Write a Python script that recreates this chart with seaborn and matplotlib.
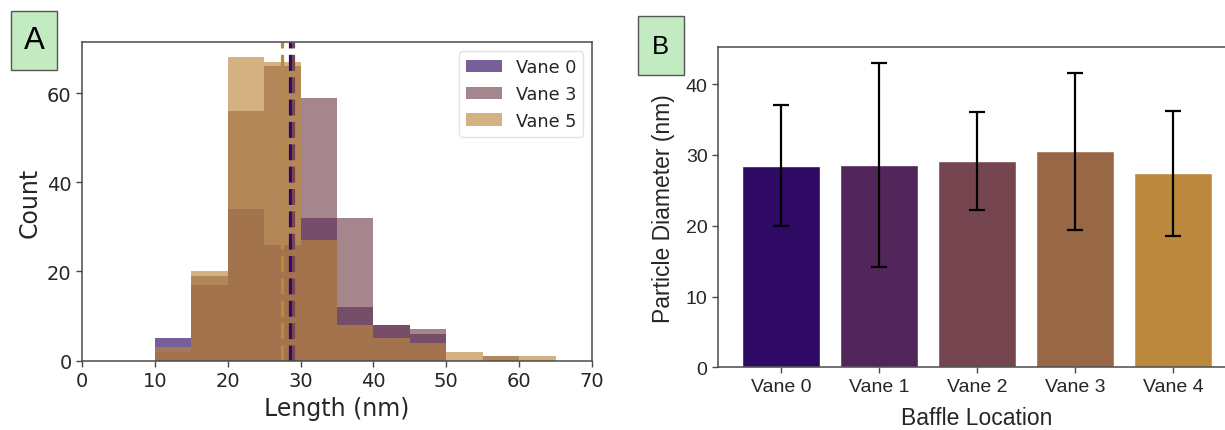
import matplotlib
matplotlib.use("Agg")
import matplotlib.pyplot as plt
from matplotlib.patches import Rectangle
import numpy as np
import pandas as pd
import seaborn as sns

# ---- Panel A: length histograms (counts per 5 nm bin) ----
bin_edges = [10, 15, 20, 25, 30, 35, 40, 45, 50, 55, 60, 65]
vane0_counts = [5, 17, 34, 26, 32, 12, 8, 6, 0, 0, 0]
vane3_counts = [2, 19, 56, 66, 59, 32, 8, 7, 0, 1, 0]
vane5_counts = [3, 20, 68, 67, 27, 8, 5, 4, 2, 1, 1]
hist_labels = ["Vane 0", "Vane 3", "Vane 5"]
mean_lengths = [28.5, 29.0, 27.4]

# ---- Panel B: mean particle diameter per baffle location ----
locations = ["Vane 0", "Vane 1", "Vane 2", "Vane 3", "Vane 4"]
mean_diam = [28.5, 28.6, 29.1, 30.5, 27.4]
std_diam = [8.6, 14.4, 6.9, 11.1, 8.8]

palette = ["#2e0a64", "#52265a", "#764650", "#986846", "#bc883e"]
hist_colors = [palette[0], palette[2], palette[4]]

sns.set_style("ticks")
plt.rcParams["font.family"] = ["DejaVu Sans"]
plt.rcParams["axes.edgecolor"] = "#4a4a4a"
plt.rcParams["xtick.color"] = "#4a4a4a"
plt.rcParams["ytick.color"] = "#4a4a4a"
plt.rcParams["xtick.labelcolor"] = "#262626"
plt.rcParams["ytick.labelcolor"] = "#262626"
plt.rcParams["axes.labelcolor"] = "#262626"

fig = plt.figure(figsize=(12.25, 4.31), dpi=100)
W, H = 1225, 431

def fig_box(left, top, right, bottom):
    return [left / W, 1 - bottom / H, (right - left) / W, (bottom - top) / H]

axA = fig.add_axes(fig_box(82, 43.3, 592, 361.6))
axB = fig.add_axes(fig_box(718, 48.3, 1236, 368.3))

# Histograms, drawn in order so the last series sits on top
centers = (np.array(bin_edges[:-1]) + np.array(bin_edges[1:])) / 2
for counts, color, label in zip([vane0_counts, vane3_counts, vane5_counts],
                                hist_colors, hist_labels):
    df = pd.DataFrame({"length": centers, "count": counts})
    sns.histplot(data=df, x="length", weights="count", bins=bin_edges,
                 color=color, alpha=0.65, linewidth=0, edgecolor="none",
                 label=label, ax=axA)

for m, color in zip([mean_lengths[2], mean_lengths[0], mean_lengths[1]],
                    [hist_colors[2], hist_colors[0], hist_colors[1]]):
    axA.axvline(m, color=color, linestyle=(0, (5, 2)), linewidth=2.3)

axA.set_xlim(0, 70)
axA.set_xticks(range(0, 71, 10))
axA.set_yticks([0, 20, 40, 60])
axA.set_xlabel("Length (nm)", fontsize=17)
axA.set_ylabel("Count", fontsize=17)
axA.tick_params(labelsize=14, length=4, width=1)
for s in axA.spines.values():
    s.set_visible(True)
    s.set_linewidth(1.1)
leg = axA.legend(loc="upper right", fontsize=12.7, frameon=True,
                 handlelength=2.0, borderaxespad=0.5)
leg.get_frame().set_edgecolor("#dddddd")

# Bar chart with standard-deviation error bars
dfB = pd.DataFrame({"location": locations, "diameter": mean_diam})
sns.barplot(data=dfB, x="location", y="diameter", hue="location",
            palette=palette, saturation=1, errorbar=None, width=0.8,
            legend=False, ax=axB)
xpos = np.arange(len(locations))
axB.errorbar(xpos, mean_diam, yerr=std_diam, fmt="none", ecolor="black",
             elinewidth=1.6, capsize=5.5, capthick=1.6)
axB.set_xlim(-0.643, len(locations) - 1 + 0.643)
axB.set_ylim(0, 45.2)
axB.set_yticks([0, 10, 20, 30, 40])
for lab in axB.get_xticklabels() + axB.get_yticklabels():
    lab.set_family("Liberation Sans")
axB.tick_params(labelsize=14, length=4, width=1)
axB.set_xlabel("Baffle Location", fontsize=16.5, family="Liberation Sans",
               labelpad=8)
axB.set_ylabel("Particle Diameter (nm)", fontsize=16.5,
               family="Liberation Sans", labelpad=8)
for s in axB.spines.values():
    s.set_visible(True)
    s.set_linewidth(1.1)

# Panel letters in shaded boxes
for (x0, y0, x1, y1, letter, size) in [(11, 11.7, 57, 71, "A", 22.5),
                                        (637.5, 17.3, 684, 76, "B", 18.5)]:
    fig.patches.append(Rectangle((x0 / W, 1 - y1 / H), (x1 - x0) / W,
                                 (y1 - y0) / H, transform=fig.transFigure,
                                 facecolor="#c2ebc2", edgecolor="#555555",
                                 linewidth=1.0, zorder=5))
    fig.text((x0 + x1) / 2 / W, 1 - (y0 + y1) / 2 / H, letter,
             ha="center", va="center", fontsize=size,
             family="Liberation Sans", color="black", zorder=6)

fig.savefig("out.png", dpi=100)
